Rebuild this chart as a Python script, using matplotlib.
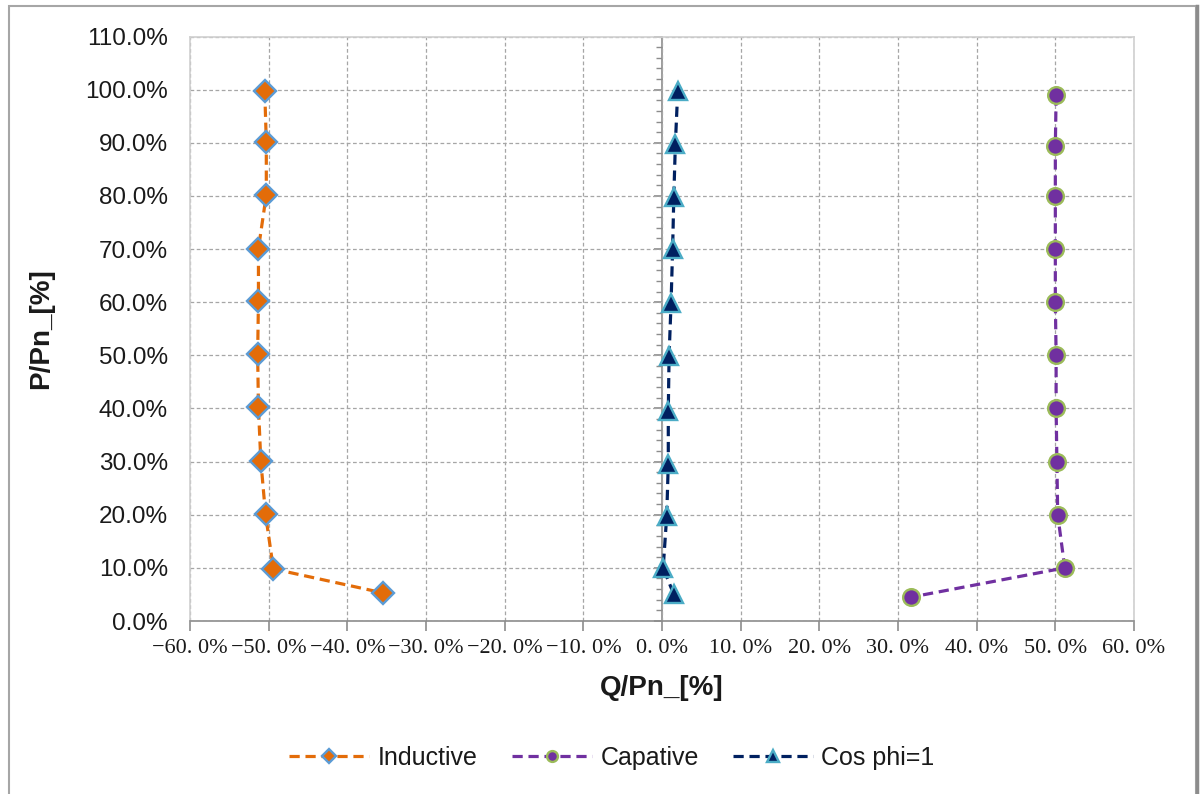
import matplotlib
matplotlib.use("Agg")
import matplotlib.pyplot as plt
from matplotlib.patches import Rectangle
from matplotlib.lines import Line2D
from matplotlib.ticker import MultipleLocator, FuncFormatter, NullFormatter

# P/Pn operating points (percent of rated power)
inductive_q = [-50.5, -50.3, -50.3, -51.3, -51.3, -51.4, -51.3, -51.0, -50.4, -49.4, -35.5]
inductive_p = [99.8, 90.2, 80.2, 70.1, 60.2, 50.2, 40.2, 30.2, 20.1, 9.8, 5.3]

capative_q = [50.1, 50.0, 50.0, 50.0, 50.0, 50.1, 50.1, 50.2, 50.3, 51.2, 31.7]
capative_p = [98.9, 89.3, 80.0, 70.0, 60.1, 50.0, 40.0, 30.0, 20.0, 10.0, 4.5]

cosphi_q = [2.0, 1.7, 1.5, 1.35, 1.15, 0.9, 0.8, 0.8, 0.6, 0.15, 1.5]
cosphi_p = [99.8, 89.8, 79.8, 70.0, 59.8, 49.9, 39.6, 29.6, 19.8, 10.0, 5.0]

series_names = ["Inductive", "Capative", "Cos phi=1"]

x_ticks = [-60, -50, -40, -30, -20, -10, 0, 10, 20, 30, 40, 50, 60]
y_ticks = [0, 10, 20, 30, 40, 50, 60, 70, 80, 90, 100, 110]

W, H = 1200, 794
fig = plt.figure(figsize=(W / 100, H / 100), dpi=100)
fig.patch.set_facecolor("white")

# chart frame
fig.add_artist(Rectangle((8.5 / W, -0.01), (1196 - 8.5) / W, 1 - 6 / H + 0.01,
                         transform=fig.transFigure, fill=False,
                         edgecolor="#A6A6A6", linewidth=1.5))
fig.add_artist(Line2D([1197 / W, 1197 / W], [0, 1 - 6 / H], transform=fig.transFigure,
                      color="#8C8C8C", linewidth=2.5))

left, right, top, bottom = 190, 1134, 36.5, 621
ax = fig.add_axes([left / W, 1 - bottom / H, (right - left) / W, (bottom - top) / H])

ax.set_xlim(-60, 60)
ax.set_ylim(0, 110)
ax.set_xticks(x_ticks)
ax.set_yticks(y_ticks)

ax.grid(True, which="major", color="#A6A6A6", linestyle=(0, (3, 2)), linewidth=0.9)
ax.set_axisbelow(True)

for side in ["top", "right", "left"]:
    ax.spines[side].set_color("#D0D0D0")
    ax.spines[side].set_linewidth(1.2)
ax.spines["bottom"].set_color("#8C8C8C")
ax.spines["bottom"].set_linewidth(1.2)

ax.yaxis.set_major_formatter(FuncFormatter(lambda v, _: f"{v:.1f}%"))
ax.tick_params(axis="y", length=0, pad=16, labelsize=17.5, labelfontfamily="Liberation Sans",
               labelcolor="#1A1A1A")


def fmt_x(v, _):
    s = f"{abs(v):.1f}".replace(".", ". ")
    return ("\u2212" if v < 0 else "") + s + "%"


ax.xaxis.set_major_formatter(FuncFormatter(fmt_x))
ax.tick_params(axis="x", length=7, width=1.2, color="#8C8C8C", pad=6, labelsize=16,
               labelfontfamily="Liberation Serif", labelcolor="#1A1A1A")

# vertical axis line crossing at Q = 0, ticks pointing left
sec = ax.secondary_yaxis(0.5)
sec.set_alignment("left")
sec.spines["left"].set_color("#8C8C8C")
sec.spines["left"].set_linewidth(1.2)
sec.yaxis.set_major_locator(MultipleLocator(10))
sec.yaxis.set_minor_locator(MultipleLocator(2))
sec.yaxis.set_major_formatter(NullFormatter())
sec.yaxis.set_minor_formatter(NullFormatter())
sec.tick_params(which="major", length=6, width=1.2, color="#8C8C8C",
                labelleft=False, labelright=False)
sec.tick_params(which="minor", length=4, width=1.0, color="#8C8C8C",
                labelleft=False, labelright=False)

dash = (0, (3.2, 1.8))
ax.plot(inductive_q, inductive_p, linestyle=dash, color="#E36C09", linewidth=2.3,
        marker="D", markersize=11, markerfacecolor="#E36C09",
        markeredgecolor="#5B9BD5", markeredgewidth=1.7, label=series_names[0], zorder=3)
ax.plot(capative_q, capative_p, linestyle=dash, color="#7030A0", linewidth=2.3,
        marker="o", markersize=12, markerfacecolor="#7030A0",
        markeredgecolor="#9BBB59", markeredgewidth=1.7, label=series_names[1], zorder=3)
ax.plot(cosphi_q, cosphi_p, linestyle=dash, color="#002060", linewidth=2.3,
        marker="^", markersize=13, markerfacecolor="#002060",
        markeredgecolor="#4BACC6", markeredgewidth=1.7, label=series_names[2], zorder=3)

fig.text(41 / W, 1 - 329 / H, "P/Pn_[%]", rotation=90, ha="center", va="center",
         fontsize=20, fontweight="bold", family="Liberation Sans", color="#1A1A1A")
fig.text(662 / W, 1 - 688 / H, "Q/Pn_[%]", ha="center", va="center",
         fontsize=20, fontweight="bold", family="Liberation Sans", color="#1A1A1A")

handles, labels = ax.get_legend_handles_labels()
leg = fig.legend(handles, labels, loc="center", bbox_to_anchor=(0.51, 1 - 758 / H), ncol=3,
                 frameon=False, handlelength=3.2, markerscale=0.65, columnspacing=1.35,
                 handletextpad=0.35, prop={"family": "Liberation Sans", "size": 18})
for t in leg.get_texts():
    t.set_color("#1A1A1A")

fig.savefig("out.png", dpi=100)
